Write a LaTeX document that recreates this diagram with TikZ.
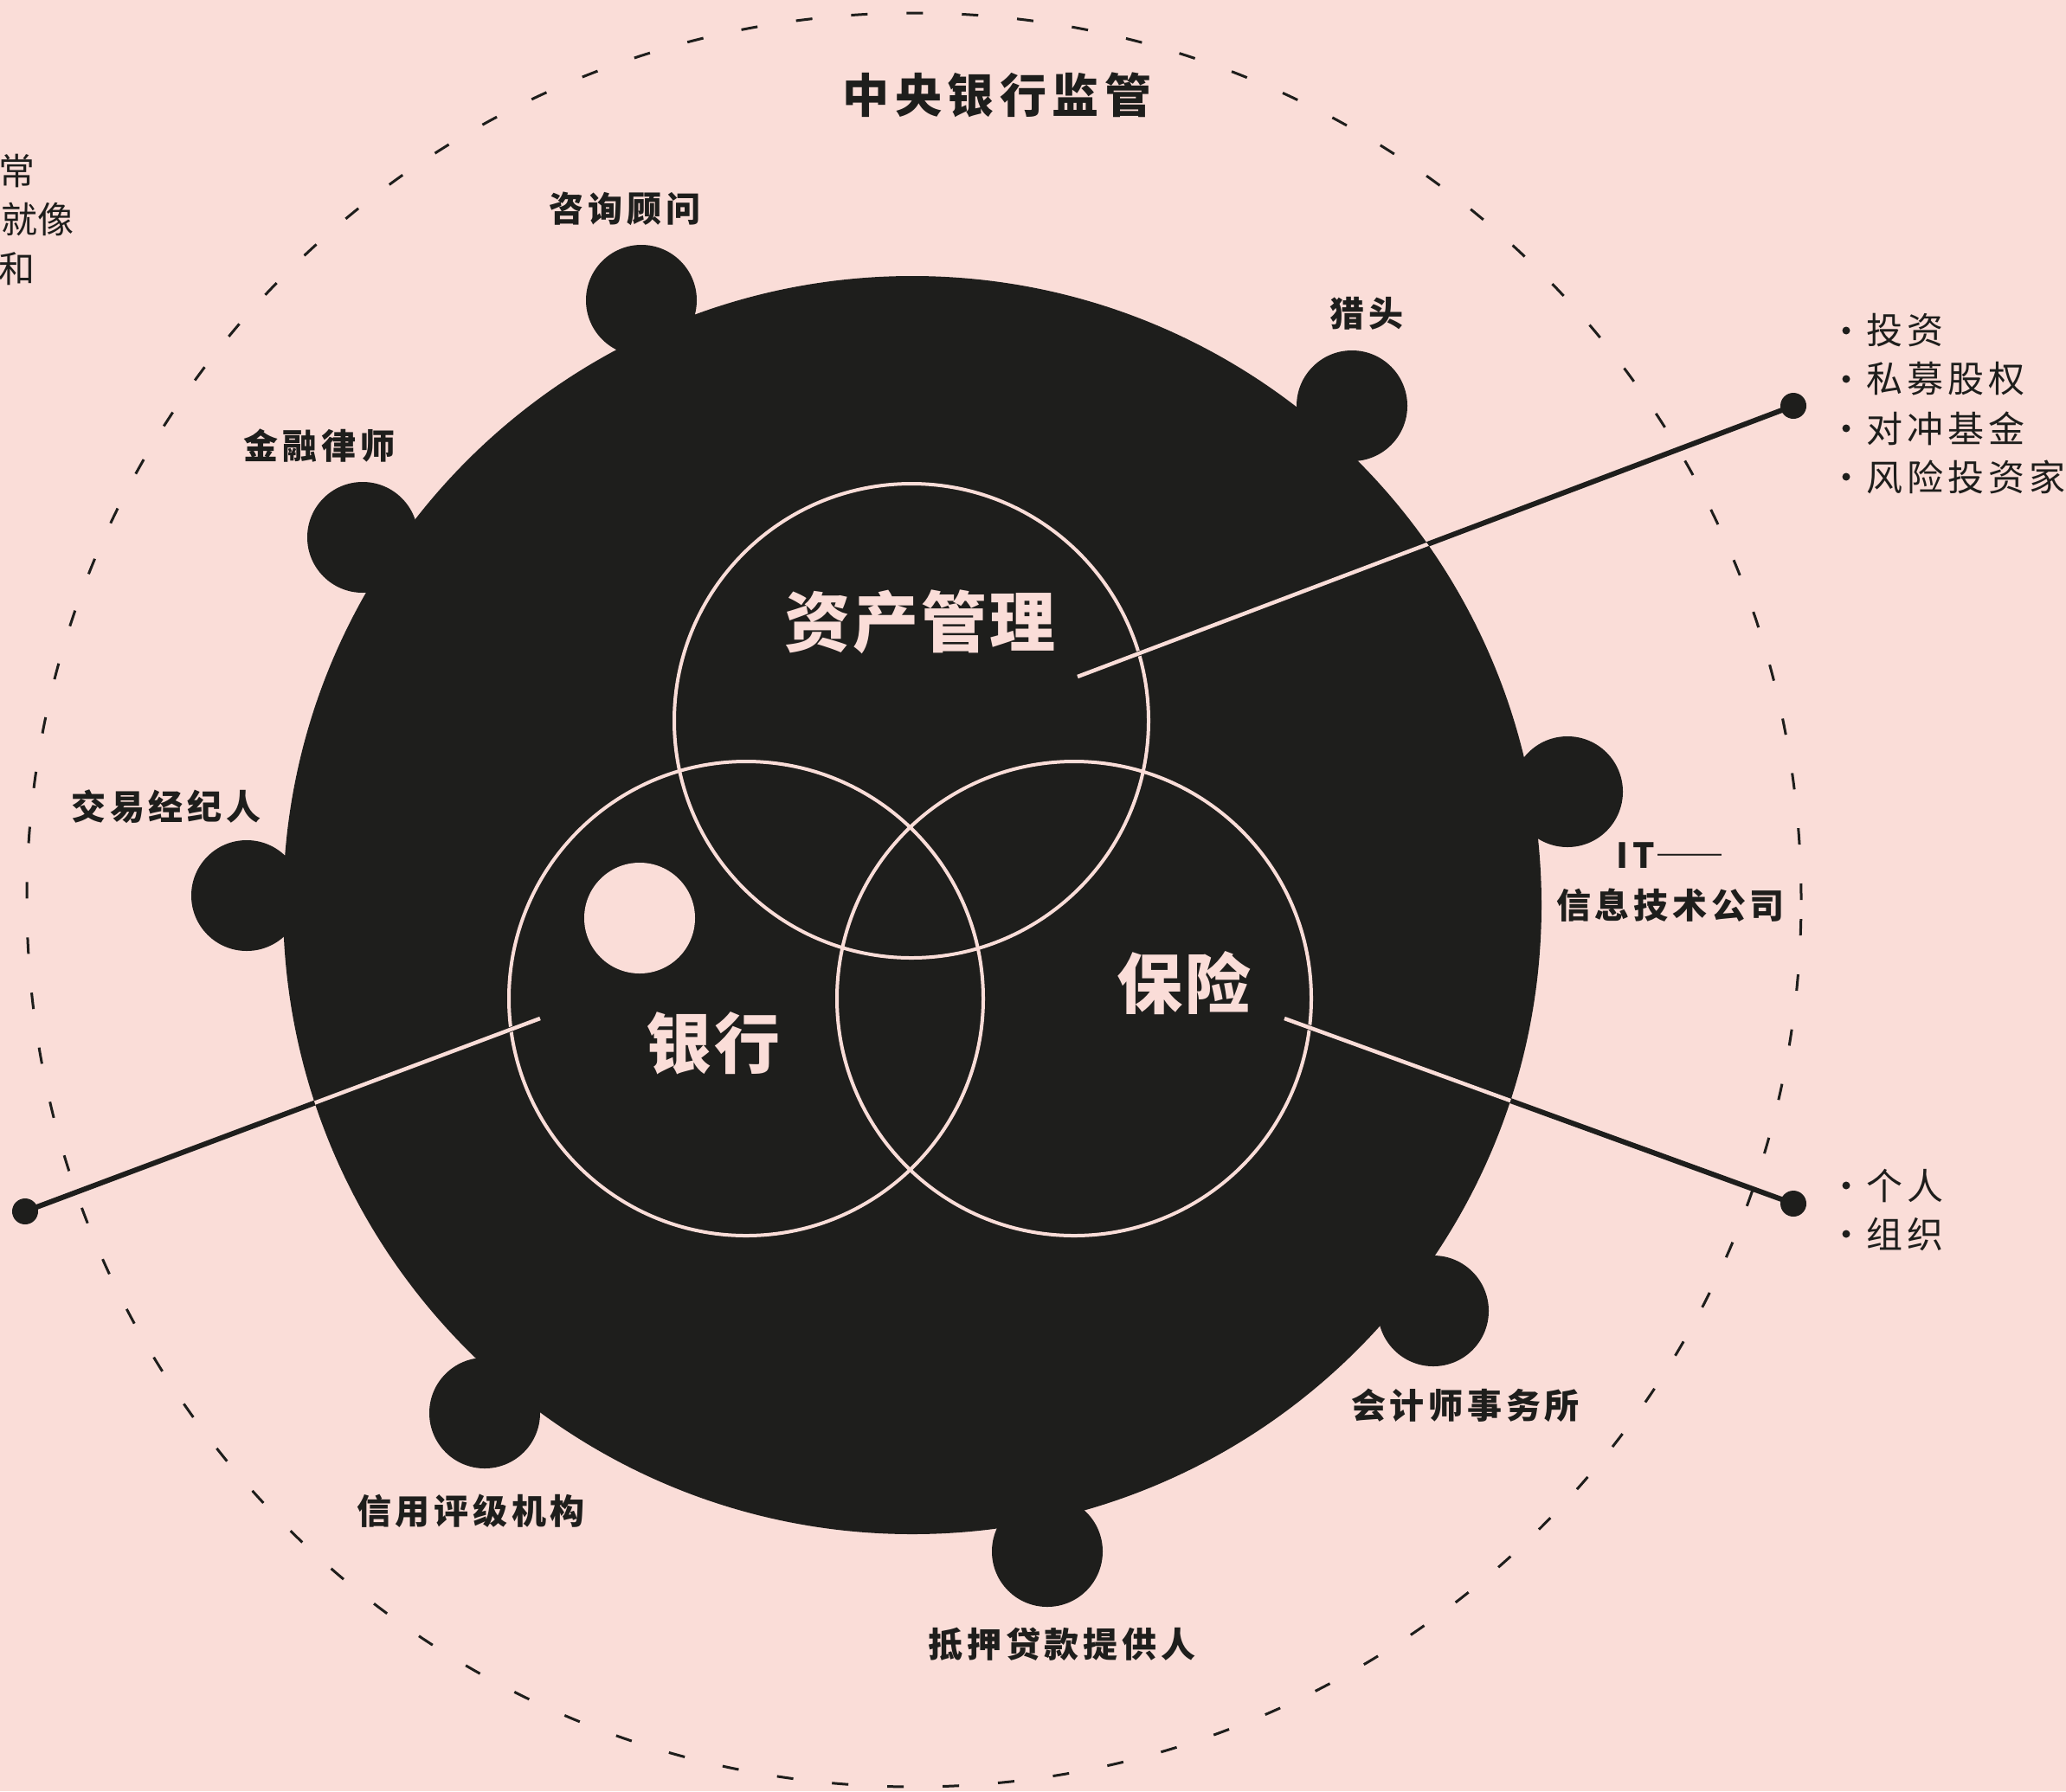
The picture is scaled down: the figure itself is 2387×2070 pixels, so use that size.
\documentclass[tikz,border=0pt]{standalone}
\usepackage{fontspec}
\newfontfamily\cjk{Noto Sans CJK SC}
\newfontfamily\cjkls[LetterSpace=12]{Noto Sans CJK SC}
\newfontfamily\cjkmid[LetterSpace=4]{Noto Sans CJK SC}
\definecolor{bg}{HTML}{FADDD8}
\definecolor{ink}{HTML}{1E1E1C}
\tikzset{
  bump/.style={circle, fill=ink, inner sep=0pt, minimum size=128pt},
  venn/.style={circle, draw=bg, line width=4pt, inner sep=0pt, minimum size=548pt},
  enddot/.style={circle, fill=ink, inner sep=0pt, minimum size=30pt},
  bulletdot/.style={circle, fill=ink, inner sep=0pt, minimum size=9pt},
  lab/.style={inner sep=0pt, text=ink, font=\cjkls\bfseries\fontsize{40}{58}\selectfont},
  titlelab/.style={inner sep=0pt, text=ink, font=\cjkls\bfseries\fontsize{54}{60}\selectfont},
  biglab/.style={inner sep=0pt, text=bg, font=\cjkmid\bfseries\fontsize{76}{80}\selectfont},
  listlab/.style={inner sep=0pt, text=ink, anchor=west, font=\cjkls\fontsize{42}{50}\selectfont},
  sidelab/.style={inner sep=0pt, text=ink, anchor=east, font=\cjk\fontsize{42}{50}\selectfont},
  inkline/.style={draw=ink, line width=6pt},
  pinkline/.style={draw=bg, line width=4.5pt},
}
\begin{document}
\begin{tikzpicture}[x=1pt,y=-1pt]
\fill[bg] (0,0) rectangle (2387,2070);
\useasboundingbox (0,0) rectangle (2387,2070);

% outer dashed ring
\node[circle, draw=ink, line width=3pt, dash pattern=on 19pt off 45pt, inner sep=0pt, minimum size=2050pt] (ring) at (1056,1040) {};

% core disc and bumps
\node[circle, fill=ink, inner sep=0pt, minimum size=1454pt] (core) at (1054,1046) {};
\node[bump] (b1) at (741,347) {};
\node[bump] (b2) at (1562,469) {};
\node[bump] (b3) at (419,621) {};
\node[bump] (b4) at (1811,915) {};
\node[bump] (b5) at (285,1035) {};
\node[bump] (b6) at (1656,1515) {};
\node[bump] (b7) at (560,1633) {};
\node[bump] (b8) at (1210,1793) {};

% small pink disc
\node[circle, fill=bg, inner sep=0pt, minimum size=128pt] (hole) at (739,1061) {};

% venn circles
\node[venn] (asset) at (1053,833) {};
\node[venn] (bank) at (862,1154) {};
\node[venn] (ins) at (1241,1154) {};

% connectors
\coordinate (aS) at (1245,782);
\coordinate (bS) at (624,1177);
\coordinate (cS) at (1484,1177);
\node[enddot] (dA) at (2072,469) {};
\node[enddot] (dB) at (29,1400) {};
\node[enddot] (dC) at (2072,1391) {};
\draw[inkline] (aS) -- (dA.center);
\draw[inkline] (bS) -- (dB.center);
\draw[inkline] (cS) -- (dC.center);
\begin{scope}
  \clip (1054,1046) circle (727);
  \draw[pinkline] (aS) -- (dA.center);
  \draw[pinkline] (bS) -- (dB.center);
  \draw[pinkline] (cS) -- (dC.center);
\end{scope}

% labels
\node[titlelab] (title) at (1152,110) {中央银行监管};
\node[lab] (l1) at (722,241) {咨询顾问};
\node[lab] (l2) at (1579,362) {猎头};
\node[lab] (l3) at (369,515) {金融律师};
\node[lab] (l5) at (192,932) {交易经纪人};
\node[lab, align=center] (l4) at (1930,1020) {IT{\cjk\bfseries ――}\\信息技术公司};
\node[lab] (l6) at (1693,1624) {会计师事务所};
\node[lab] (l7) at (544,1746) {信用评级机构};
\node[lab] (l8) at (1227,1900) {抵押贷款提供人};

\node[biglab] (tA) at (1063,719) {资产管理};
\node[biglab] (tB) at (824,1206) {银行};
\node[biglab] (tC) at (1368,1136) {保险};

% lists
\node[bulletdot] (p1) at (2133,382) {};
\node[bulletdot] (p2) at (2133,438) {};
\node[bulletdot] (p3) at (2133,495) {};
\node[bulletdot] (p4) at (2133,551) {};
\node[listlab] (i1) at (2156,382) {投资};
\node[listlab] (i2) at (2156,438) {私募股权};
\node[listlab] (i3) at (2156,495) {对冲基金};
\node[listlab] (i4) at (2156,551) {风险投资家};
\node[bulletdot] (q1) at (2133,1370) {};
\node[bulletdot] (q2) at (2133,1426) {};
\node[listlab] (j1) at (2156,1370) {个人};
\node[listlab] (j2) at (2156,1426) {组织};

% cut-off text on the left
\node[sidelab] (s1) at (41,198) {常};
\node[sidelab] (s2) at (86,254) {就像};
\node[sidelab] (s3) at (41,311) {和};
\end{tikzpicture}
\end{document}
